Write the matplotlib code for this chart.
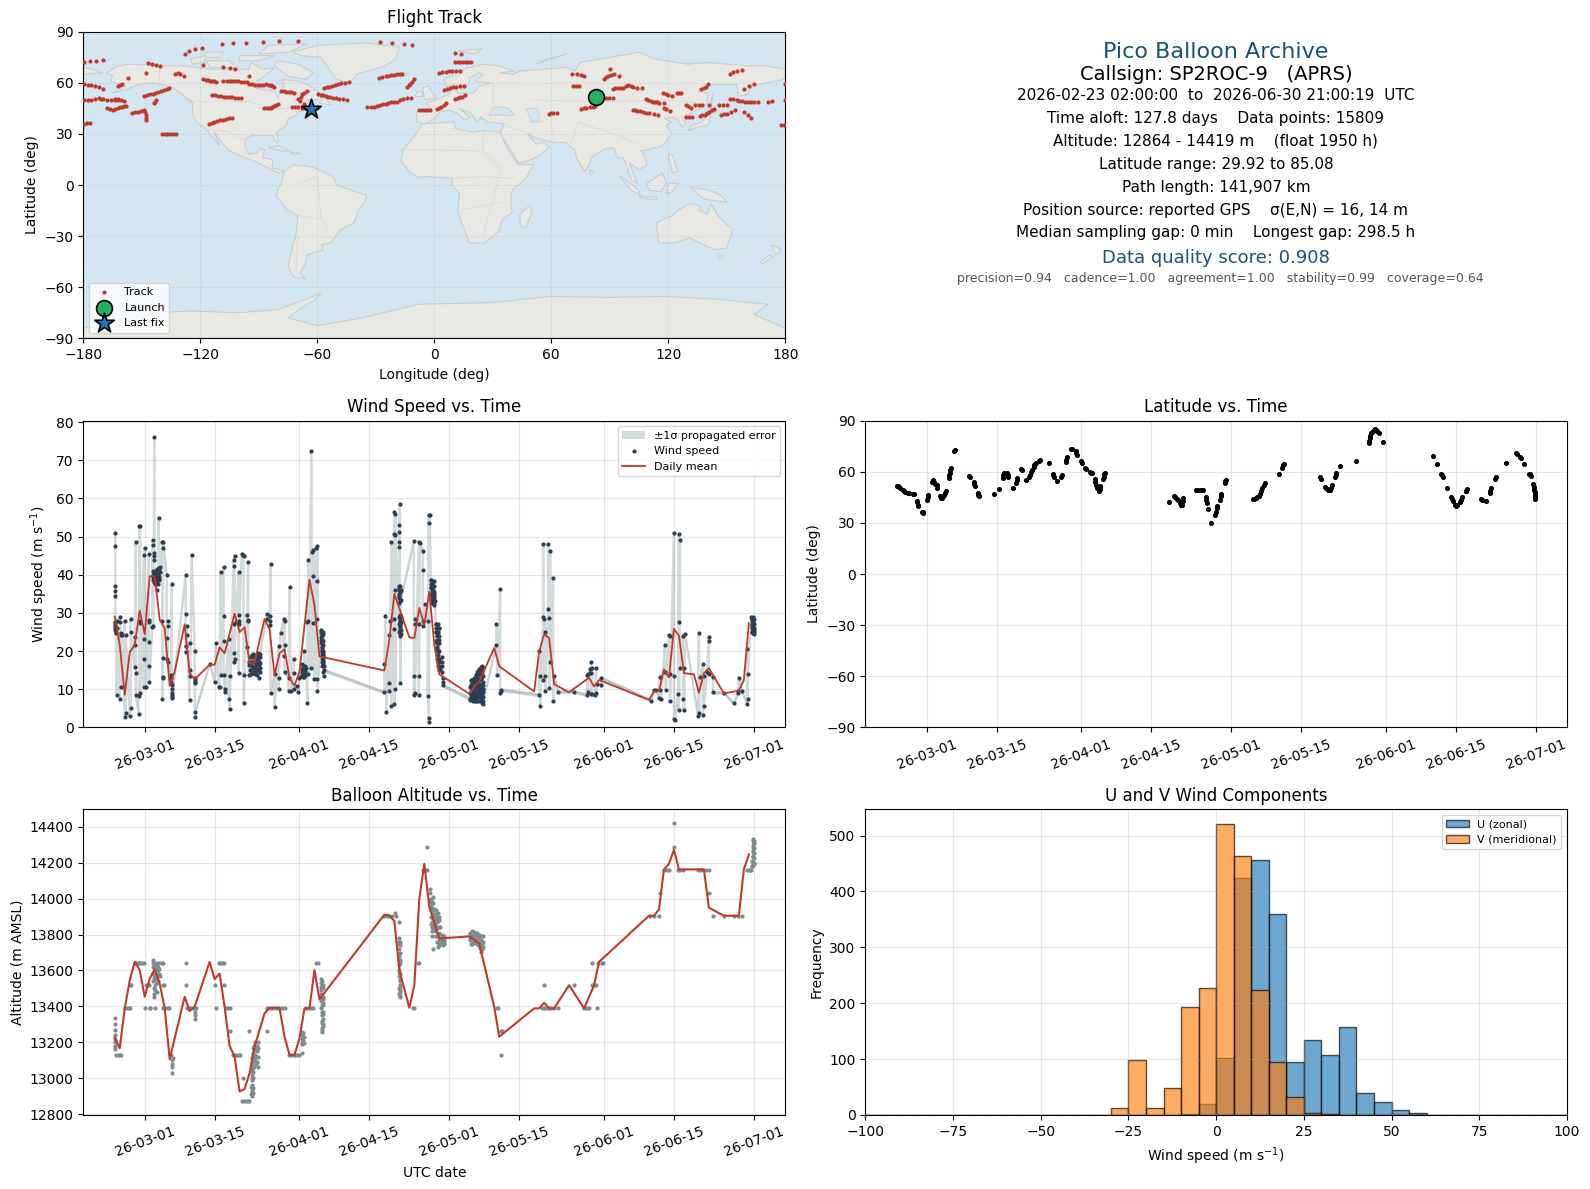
#!/usr/bin/env python3
"""Pico balloon flight summary: track map, stats text, wind, latitude, altitude, U/V histogram."""

from datetime import datetime, timedelta

import matplotlib

matplotlib.use("Agg")
import matplotlib.dates as mdates
import matplotlib.pyplot as plt
import numpy as np
from matplotlib.patches import Polygon

# all time values below are days after 2026-03-01 00:00 UTC
REF_DATE = datetime(2026, 3, 1)

track_pts = [
    (-128, 77), (-125.6, 79), (-122.7, 80), (-119, 80.7), (-109, 82.6), (-103, 83.4), (-96.4, 83.4),
    (-88, 84.2), (-79.5, 84.6), (-70, 84.6), (-28, 84), (-21.5, 83.6), (-15.3, 83), (-11.2, 82.4),
    (-179.5, 72.3), (-176.4, 72.9), (-173.3, 72.9), (-170, 73.6), (-147, 71.7), (-144.6, 71.3),
    (-142.7, 70.7), (-140.6, 70.1), (-148, 66), (-157.3, 63), (-179.5, 59.6), (-177.5, 59), (-176, 58.5),
    (-174, 58), (-172, 57.5), (-170, 56.6), (-162, 58), (-161, 58.6), (-160.4, 59.2), (-133, 65), (-131.5, 66),
    (-130.3, 65), (-128.6, 64), (-118.4, 70.3), (-108.4, 69.3), (-104.8, 68.8), (-102.4, 68.2), (-95.2, 64),
    (-118.4, 62), (-117, 61.8), (-116, 61.5), (-115, 61.2), (-114, 61), (-113, 60.9), (-112, 60.7),
    (-108.4, 61.3), (-106.5, 61.3), (-105, 61.3), (-103.5, 61.2), (-102, 61), (-100.5, 60.9), (-99, 60.8),
    (-97.5, 60.5), (-96, 60.3), (-95, 59.6), (-93.5, 59.2), (-92, 59), (-90.5, 59), (-89.5, 59), (-88, 59),
    (-86.5, 59.2), (-85, 58.8), (-84, 58.5), (-83, 58), (-82, 57.6), (-78.5, 55.3), (-77, 55), (-76, 54.8),
    (-74.5, 54.5), (-73.5, 54.4), (-72, 54), (-149, 52.3), (-147.5, 52.7), (-146, 53.2), (-144.5, 53.7),
    (-143, 54.2), (-141.5, 54.9), (-140, 55.5), (-138.5, 56), (-137, 56.7), (-136, 57), (-168, 45), (-166.5, 44.4),
    (-165, 44), (-163.5, 44.4), (-162, 45), (-161, 45.6), (-160, 46), (-159, 46.3), (-158, 46.5), (-179.5, 49.8),
    (-177.5, 49.9), (-176, 50), (-174, 50.5), (-172, 51), (-171, 50.6), (-170, 50.4), (-168, 50.1), (-166, 50),
    (-164, 49.9), (-162, 49.8), (-164, 50.8), (-162, 50.5), (-160.5, 50), (-159, 49.6), (-155, 42.4), (-153.5, 42.8),
    (-152, 43), (-150.5, 43.5), (-149, 44), (-148.5, 43), (-148, 41), (-147.8, 39.5), (-147.7, 38), (-144, 48),
    (-143.4, 49), (-142.8, 50), (-179.5, 35.7), (-178, 36.2), (-176.5, 36.7), (-139.4, 29.7), (-138, 29.8),
    (-137, 30), (-135.5, 30.1), (-134, 30.2), (-132.5, 30.2), (-114, 52.7), (-112.5, 52.6), (-111, 52.5),
    (-109.5, 52.2), (-108, 52), (-106.5, 51.8), (-105, 51.6), (-103.5, 51.5), (-102, 51.4), (-100.5, 51.3),
    (-99, 51.2), (-115.5, 36), (-114.2, 36.5), (-113, 37), (-111.5, 37.5), (-110, 38), (-108.5, 38.4), (-107, 38.8),
    (-105.5, 39.2), (-104, 39.6), (-87.3, 45), (-86, 45), (-85, 45), (-84, 45.3), (-83, 45.8), (-82, 46.2),
    (-81, 46.8), (-80, 47.5), (-73, 46), (-71.5, 45.8), (-70, 45.6), (-68, 45.5), (-66.5, 45.5), (-65, 45.3),
    (-60, 45), (-69.7, 50.8), (-69, 49.5), (-68.5, 52), (-67.8, 53.3), (-66.6, 54.2), (-65.4, 55), (-66.6, 47.8),
    (-59.4, 53.3), (-58, 53), (-57, 52.8), (-55.7, 52.4), (-54.7, 52), (-53.3, 51.6), (-52, 51.3), (-50.5, 51),
    (-49, 50.6), (-47, 50.4), (-45, 50.2), (-56.6, 57), (-55.2, 57.3), (-54, 57.6), (-52.5, 58), (-51, 58.5),
    (-49.5, 59.1), (-48, 59.7), (-46, 60), (-44, 60.4), (-34.4, 45.9), (-32.7, 45.9), (-31, 45.9), (-29.5, 46.4),
    (-28, 47), (-26.5, 47.4), (-25, 47.8), (-23.5, 48.1), (-22, 48.5), (-20.5, 48.8), (-19, 49), (-17.5, 49.7),
    (-16, 50.5), (-14, 51), (-12, 51.4), (-28.4, 63), (-27, 63.5), (-25, 64), (-23.5, 64.3), (-22, 64.6),
    (-20.5, 64.8), (-19, 65), (-17.5, 65), (-16.5, 65), (-14, 57.6), (-13.2, 58.5), (-12.5, 59.5), (-11.5, 60.8),
    (-10.5, 62), (10.5, 77.7), (13.8, 77), (10.5, 72.5), (12, 72.5), (13, 72.5), (14.5, 72.5), (16, 72.5),
    (17.5, 72.5), (18.6, 72.5), (2.6, 66), (4, 66.2), (6, 66.5), (7.5, 66.8), (9, 67), (11, 67.1), (13.4, 67.2),
    (5, 56), (6.5, 56.5), (8, 57), (9.5, 57.4), (11, 57.8), (13, 58.1), (15, 58.4), (10.5, 50.8), (12, 51.2),
    (13, 51.5), (14.4, 52), (15.8, 52.7), (-8, 43.8), (-6.5, 43.8), (-5, 43.8), (-3.5, 43.8), (-2, 43.8),
    (1.4, 44.5), (2.5, 45), (3.5, 45.8), (4.8, 47), (6, 48.2), (58.7, 42), (60, 42.2), (61, 42.4), (63, 42.4),
    (70.6, 65.4), (73, 65), (75, 64.6), (77, 64.3), (71.3, 58), (72.6, 58.2), (74, 58.4), (75.4, 44.5), (77, 45),
    (78, 45.3), (80, 45.8), (81.3, 46), (82.6, 46.3), (86, 51.4), (88, 51.4), (89.7, 51.4), (91.6, 51.4), (86.9, 62.5),
    (88, 63.3), (89, 64), (90.5, 64.7), (92, 65.4), (90.2, 68.4), (94.5, 64), (91.4, 56.6), (92.7, 56.8), (94, 57),
    (95.5, 57.1), (97, 57.2), (98.3, 58), (99.5, 58.7), (100.8, 58), (102, 57.5), (104, 57.2), (106.4, 57),
    (108.4, 50.8), (109.7, 50), (111, 49.3), (112, 48.9), (113, 48.6), (114.2, 48.5), (115.4, 48.4), (117.9, 48.4),
    (101.7, 44), (103, 43.8), (104, 43.6), (105.5, 43.3), (107, 43), (108.5, 42.6), (110, 42.2), (112.5, 41.8),
    (114.8, 41.4), (117.2, 54.1), (118.6, 53.5), (120, 53), (122, 52.4), (124.3, 54.3), (125.5, 54.3), (126.7, 54.3),
    (117.7, 45.5), (119, 44.7), (120.8, 43.6), (129, 47), (130, 46.3), (131.5, 45.5), (133.9, 47.3), (135.7, 47.3),
    (137.5, 47.3), (129, 40), (130.5, 39.8), (132.2, 39.8), (136.3, 40.4), (137.5, 40.9), (139, 41.4), (140, 42.2),
    (141, 43), (142.2, 43.8), (143.4, 44.5), (147, 41.4), (148.5, 41.7), (150, 42), (152, 43), (154, 44), (141, 47),
    (145.8, 46.9), (148, 46.9), (150, 46.9), (151.8, 50.8), (153.4, 50.3), (155, 49.8), (156.5, 49.5), (158, 49.2),
    (159.5, 49), (161, 48.8), (162.5, 48.7), (164, 48.6), (166, 49), (171, 48.8), (173, 49.5), (159, 43), (160.8, 41.2),
    (162.5, 39.6), (151.8, 65.4), (153.4, 66.1), (155, 66.8), (157.8, 67.8), (137, 56.3), (138.3, 56.9), (139.5, 57.5),
    (140.3, 59.2), (159, 56.6), (161.4, 57.9), (163.8, 59.2), (179.7, 59.6), (179.7, 49.8), (178, 35.5), (179.5, 35.5),
]
launch_lon, launch_lat = 83.0, 51.5
last_lon, last_lat = -63.0, 44.8

wind_seg1 = [
    (-5.92, 51), (-5.9, 47.5), (-5.9, 37), (-5.9, 35.8), (-5.9, 34.3), (-5.9, 27.5), (-5.88, 27), (-5.88, 26.5),
    (-5.86, 26), (-5.86, 25.5), (-5.84, 25), (-5.82, 24.8), (-5.6, 8.4), (-5.6, 28), (-5.6, 26), (-5, 7.4), (-5, 29),
    (-5, 27.5), (-4.8, 24.8), (-4.8, 10.5), (-4.75, 24.3), (-4.6, 24.2), (-4, 2.7), (-4, 28), (-3.8, 3.7), (-3.8, 24.3),
    (-3, 2.9), (-2.8, 5), (-2.8, 28.5), (-2.8, 25), (-2, 15.8), (-2, 23.7), (-2, 21.6), (-1.8, 48.7), (-1.8, 14.2),
    (-1.8, 8.4), (-1.2, 3.4), (-1.2, 8.2), (-1.05, 52.8), (-1, 28), (-1, 27.3), (-0.95, 52.8), (-0.9, 9), (-0.2, 45.2),
    (-0.2, 23.2), (-0.2, 18), (-0.2, 10.5), (0, 47), (0.3, 10.5), (0.8, 45.4), (0.8, 22.4), (0.85, 28.2), (0.85, 27.7),
    (0.85, 16.2), (0.85, 12), (1.55, 26.2), (1.6, 49), (1.6, 47.8), (1.65, 40), (1.65, 38.6), (1.7, 26.5), (1.75, 39.5),
    (1.8, 38), (1.85, 45.6), (1.85, 44.8), (1.85, 44), (1.9, 76), (1.95, 40.5), (2, 39), (2.05, 37.6), (2.2, 41),
    (2.3, 39.6), (2.35, 38.2), (2.45, 36), (2.5, 40.7), (2.6, 38.8), (2.7, 41.5), (2.75, 40), (2.8, 55), (2.85, 38.5),
    (2.9, 41.8), (3, 40.6), (3.5, 48.5), (3.5, 28), (3.5, 7.4), (3.6, 47), (3.6, 18.2), (3.6, 13.2), (3.6, 12.8),
    (3.7, 48.7), (4.4, 40), (4.4, 23.5), (4.4, 18), (4.6, 28), (4.6, 26.6), (4.6, 17.2), (5.3, 13.8), (5.35, 13), (5.35, 12),
    (5.4, 37.6), (5.4, 11), (5.4, 10), (5.4, 9), (5.42, 8.5), (5.45, 8), (5.5, 7.6), (8.2, 40), (8.2, 29.7), (8.2, 21.2),
    (8.2, 19.7), (8.4, 26.6), (8.4, 24.2), (9, 7.1), (9, 22), (9.05, 15), (9.1, 13.5), (9.4, 45.2), (10, 20), (10, 13), (10, 12.5),
    (10, 12), (10, 11.5), (10.05, 2.7), (10.1, 4), (13, 16.7), (14, 12), (14.2, 22), (14.8, 10.5), (15, 10.5), (15.2, 40.8),
    (15.2, 13.6), (15.8, 42), (15.8, 29.2), (15.8, 22.6), (15.8, 13.6), (16, 9.2), (16.1, 10), (16.8, 23.2), (16.8, 7.4),
    (17, 13.4), (17, 4.7), (17.8, 42.4), (17.8, 44), (17.8, 19.4), (17.8, 17), (17.9, 27), (18, 45), (18, 18), (18.2, 27.5),
    (18.8, 40.8), (18.8, 14.2), (18.9, 29.4), (18.9, 28), (18.9, 27), (19.4, 45.5), (19.7, 45.2), (19.8, 45), (19.8, 13.8),
    (19.8, 6.3), (20.4, 29.4), (20.4, 21), (20.6, 28.2), (20.7, 43.4), (20.7, 28), (20.8, 16.3), (20.9, 13.8), (21, 15),
    (21.2, 17), (21.3, 14), (21.5, 18.5), (21.5, 16.2), (21.6, 19.3), (21.7, 14.5), (21.9, 17.5), (22, 15.8), (22.1, 13.9),
    (22.2, 18.8), (22.4, 16.8), (22.5, 15), (22.6, 19.5), (22.7, 17.8), (22.8, 16.2), (22.8, 12.9), (23, 18.5), (23, 14.5),
    (24.4, 29.7), (24.4, 28.5), (25, 29.3), (25, 28), (25, 26.7), (25.2, 42.8), (25.2, 9), (26, 14), (26, 5.2), (26.8, 21.3),
    (26.8, 13), (26.8, 10), (27.2, 24.7), (27.8, 28.4), (27.8, 18.8), (28, 28), (28, 21.5), (28, 14.5), (28.8, 13), (28.8, 9.5),
    (29, 36.9), (29.2, 9.5), (29.8, 18), (29.8, 14.2), (29.8, 10), (30.6, 10.8), (30.8, 9.2), (31, 13), (31.4, 13.5), (31.5, 16.5),
    (31.6, 15.4), (31.7, 14.2), (31.8, 13.3), (31.9, 16), (32, 20), (32, 15), (32.1, 13.8), (32.2, 14.8), (32.6, 6.3), (32.6, 27.5),
    (32.8, 44), (32.8, 27.8), (32.8, 14), (33.4, 72.5), (33.4, 15.5), (33.6, 46), (33.7, 39.7), (33.7, 27.4), (33.8, 46.5),
    (33.9, 12.6), (34.4, 47), (34.5, 12.6), (34.6, 47.5), (34.6, 38.4), (34.6, 28.4), (34.6, 9.4), (35.3, 25.5), (35.35, 24.6),
    (35.35, 23.8), (35.4, 23), (35.4, 22), (35.45, 21), (35.45, 20.2), (35.5, 19.4), (35.5, 18.6), (35.55, 17.8), (35.55, 17),
    (35.6, 16.2), (35.65, 25), (35.65, 22.5), (35.7, 20), (35.7, 18), (35.75, 16.6), (35.8, 14.5), (35.85, 13.5),
]
wind_seg2 = [
    (48, 9.2), (48, 16.5), (48.2, 29.3), (48.4, 4), (49, 24.3), (49, 9.5), (49, 11.5), (49.2, 28), (49.4, 48.7), (49.4, 5.5),
    (50, 56.5), (50, 50.7), (50, 28.5), (50, 25.8), (50, 6.2), (50.1, 36), (50.2, 10), (50.2, 56), (50.2, 50.5), (51, 53),
    (51, 51.2), (51, 48.7), (51, 47.3), (51, 37), (51, 36), (51, 35), (51, 33.8), (51, 32.5), (51.1, 58.5), (51.1, 29.5),
    (51.1, 28.5), (51.1, 27.5), (51.1, 26.5), (51.1, 25.5), (51.1, 24.5), (51.2, 29), (51.2, 27), (51.2, 25), (51.2, 24), (51.2, 11.5),
    (53.9, 48.9), (53.9, 13.4), (53.9, 8.5), (54.1, 28.5), (54.1, 27), (54.1, 9), (54.9, 48.6), (54.9, 27), (54.9, 13.4), (54.9, 8.6),
    (55.1, 48.2), (55.7, 46.2), (55.7, 41.2), (55.7, 28), (55.7, 26.5), (56.1, 32.4), (56.7, 28), (56.7, 8.2), (56.9, 55.7),
    (56.9, 53.6), (56.9, 2.5), (56.9, 1.3), (57.1, 55.7), (57.3, 38.5), (57.35, 37.5), (57.4, 36.5), (57.45, 35.5), (57.5, 34.5),
    (57.55, 33.5), (57.6, 32.5), (57.7, 38), (57.75, 37), (57.8, 36), (57.85, 35), (57.9, 34), (57.95, 33), (58, 32),
    (58.3, 27), (58.35, 26), (58.4, 25), (58.45, 24), (58.5, 23), (58.55, 22), (58.6, 21), (58.65, 20), (58.7, 19), (58.75, 18),
    (58.8, 17), (58.85, 16), (58.9, 15), (58.95, 26), (59, 24), (59, 22), (59, 20), (59.5, 18.5), (59.5, 17), (59.55, 16), (59.6, 14.5),
    (59.65, 13), (59.7, 12), (59.7, 11),
]
wind_seg3 = [
    (65.1, 7.5), (65.2, 9), (65.3, 11), (65.4, 8), (65.5, 10), (65.6, 12), (65.7, 8.5), (65.8, 7), (65.9, 10), (66, 11.5),
    (66.1, 9), (66.2, 7.5), (66.3, 12), (66.4, 10.5), (66.5, 8), (66.6, 14.5), (66.6, 13), (66.7, 11), (66.7, 9), (66.8, 7),
    (66.9, 14), (67, 12.5), (67, 10), (67.1, 8), (67.2, 15), (67.3, 13), (67.4, 11), (67.4, 9), (67.5, 6.5), (67.6, 16), (67.6, 14),
    (67.7, 12), (67.7, 10), (67.8, 8), (67.8, 6), (70.4, 21.5), (70.4, 27), (70.6, 13.8), (71.2, 36.3), (71.2, 9), (71.3, 9.5), (71.4, 9.8),
    (79, 8.5), (79, 20), (79.2, 13.5), (79.2, 5.5), (79.8, 29), (79.8, 48), (79.8, 12.5), (80, 28.5), (80.2, 25), (80.2, 13.5),
    (80.2, 9.5), (80.8, 31), (80.8, 48), (81, 28.7), (81, 10.3), (81.2, 46.3), (81.2, 17), (81.8, 39.2), (81.8, 7), (82, 13.5),
    (82.8, 9.3), (86, 9.3), (88.6, 8.5), (88.6, 13.8), (88.8, 9.3), (88.8, 14), (89.2, 15.4), (89.2, 14.2), (89.4, 17), (89.4, 14.2),
    (89.4, 8.7), (89.6, 15.5), (89.6, 8.7), (90.2, 8.5), (90.4, 15.5), (90.4, 9), (90.6, 11.4), (91.4, 11), (91.4, 13),
    (101.4, 7), (102, 9.7), (102.4, 9.7), (103, 7.8), (103.2, 13.2), (103.2, 9.7), (103.4, 7.3), (104.2, 21.7), (104.2, 14.5), (104.4, 9.8),
    (105, 24.2), (105.2, 24), (105.2, 14), (105.2, 7), (106, 51), (106, 13.5), (106, 2.2), (106.2, 2), (106.8, 8.7), (107, 50.7), (107, 27.5),
    (107, 4.5), (107.2, 49.2), (107.2, 15.5), (107.8, 24), (107.8, 7.3), (108, 15.5), (108, 4.5), (108.2, 24.5), (110.8, 3), (111, 24.7),
    (111, 3.7), (111.2, 13.2), (111.8, 16.7), (111.8, 3.2), (112, 13.5), (112, 5.5), (112.6, 14.5), (113, 23.8), (113, 22.5), (113, 14),
    (113.8, 13.3), (113.8, 9.2), (116, 9), (118, 6.3), (118.8, 9), (118.8, 9.5), (119, 13), (119.6, 9.5), (120.6, 6.2), (120.6, 20.5),
    (120.8, 7.5), (120.8, 14), (121.5, 29), (121.55, 28), (121.6, 27), (121.65, 26), (121.7, 25), (121.7, 28.5), (121.75, 27.5),
    (121.8, 26.5), (121.85, 25.5), (121.9, 28), (121.9, 24.6), (122, 27), (122, 26), (122, 25), (122, 24.5), (121.88, 24.9),
]
# the solid blobs in the wind panel
wind_blobs = [
    (1.7, 41), (1.9, 38.5), (2.1, 40), (2.2, 37.8), (2.4, 41.5), (2.4, 38.8), (2.6, 40), (2.6, 37.5), (2.8, 39.5), (2.8, 41), (2.95, 38.8), (3, 42),
    (20.9, 17), (21.1, 18.5), (21.2, 15), (21.4, 19), (21.4, 14.2), (21.6, 17.2), (21.8, 15.5), (21.8, 18.6), (22, 14.5), (22, 19), (22.2, 16.5),
    (22.3, 14.6), (22.5, 18), (22.5, 13.7), (22.7, 15.3), (22.9, 19), (22.9, 17), (23.05, 15.5), (23.05, 16.8), (23.1, 19.2),
    (31.5, 14.5), (31.6, 13.4), (31.8, 15.8), (31.9, 14.6), (32, 13.2), (32.1, 16.2), (32.2, 13.6), (32.3, 15.6),
    (35.4, 25.2), (35.5, 24), (35.5, 23), (35.6, 22), (35.6, 21), (35.6, 20), (35.65, 19), (35.7, 18.6), (35.7, 17.4), (35.8, 24.5), (35.8, 21.5),
    (35.8, 19.5), (35.8, 17.2), (35.85, 16), (35.85, 15),
    (50.9, 29), (50.9, 27), (50.9, 25), (50.95, 36.5), (50.95, 34.5), (51.05, 37), (51.05, 33), (51.15, 35.5), (51.15, 28), (51.15, 26), (51.3, 29),
    (51.3, 27.5), (51.3, 25.5), (51.3, 24.4), (51.3, 36), (51.3, 33.5),
    (57.3, 36.7), (57.35, 34.8), (57.4, 33), (57.4, 38.7), (57.5, 37.4), (57.6, 36.3), (57.65, 35.2), (57.7, 34), (57.75, 32.8), (57.9, 38.4), (57.95, 37),
    (58, 35.5), (58, 34.5), (58.05, 33.2),
    (58.3, 25), (58.4, 27), (58.4, 22.5), (58.5, 26), (58.5, 20.5), (58.6, 24.5), (58.6, 18), (58.7, 27), (58.7, 22), (58.75, 16), (58.8, 25), (58.8, 20),
    (58.9, 23), (58.9, 18), (59, 26), (59, 17), (59.05, 15.2),
    (65.1, 10.5), (65.2, 7.2), (65.3, 8.7), (65.3, 12.4), (65.5, 12.5), (65.6, 7.3), (65.6, 9.6), (65.8, 9.6), (65.8, 11.6), (65.9, 8.2), (65.9, 12.2),
    (66, 13), (66.1, 7), (66.2, 10.6), (66.3, 13.8), (66.3, 8.4), (66.4, 6.9), (66.5, 11.8), (66.6, 9.6), (66.8, 12.6), (66.8, 14.8), (66.9, 10.4),
    (66.9, 8.6), (67, 15.4), (67.1, 11.4), (67.1, 13.6), (67.2, 6.8), (67.2, 9.6), (67.3, 15.8), (67.4, 12.6), (67.4, 7.6), (67.5, 14.8), (67.5, 10.4),
    (67.6, 8.4), (67.7, 13.5), (67.7, 15.6), (67.8, 11), (67.8, 9.2), (67.8, 7),
    (121.55, 26.5), (121.6, 25), (121.65, 28.6), (121.75, 26), (121.8, 24.8), (121.8, 28.8), (121.9, 27), (121.95, 25.6), (122, 28.3),
]

wind_mean_days = [
    -6, -5, -4, -3, -2, -1, 0, 1, 2, 3, 4, 5, 6, 8, 9, 10, 13, 14, 15, 16, 18, 19, 20, 21, 22, 24, 25, 26, 27, 28, 29, 30, 31,
    33, 34, 35, 48, 49, 50, 53, 54, 55, 56, 57, 58, 59, 65, 66, 67, 70, 71, 78, 79, 80, 81, 82, 85, 89, 90, 91, 101, 102, 103,
    104, 105, 106, 107, 108, 110, 111, 112, 113, 116, 119, 120, 121,
]
wind_mean = [
    29, 21.6, 8.5, 19.7, 21.6, 30.6, 24.4, 39.6, 39.6, 28.2, 26, 10.9, 14.6, 27, 14.2, 12.6, 16.4, 16.4, 21, 19.4, 29.8, 25,
    26.2, 16.8, 17, 28.4, 25.7, 13.7, 19.4, 20.5, 12.9, 10.9, 14.6, 38.7, 32, 18.6, 14.9, 23, 35, 23.6, 23.4, 31.3, 26.7,
    35.6, 21.6, 13.9, 8.8, 10.7, 12, 20.8, 16, 9.4, 19.9, 24.4, 23.4, 11.3, 9.2, 13, 10.7, 12.4, 7.2, 9.4, 9.5, 15.2, 13.1,
    25.8, 24, 14.2, 13.9, 9.1, 14.2, 15.5, 8.9, 9.6, 12.4, 27.3,
]
wind_sigma = 0.5  # roughly constant propagated error, m/s

alt_pts = [
    (-5.92, 13333), (-5.9, 13300), (-5.9, 13270), (-5.9, 13240), (-5.88, 13220), (-5.88, 13200), (-5.86, 13180), (-5.86, 13160),
    (-5.7, 13128), (-5.3, 13128), (-5, 13128), (-4.7, 13128), (-4, 13389), (-3.4, 13389), (-3.1, 13389), (-2.9, 13389), (-3, 13517),
    (-2.8, 13517), (-2, 13644), (-1.7, 13644), (-1.4, 13644), (-1.1, 13644), (-0.9, 13644), (-0.5, 13644), (-0.2, 13644), (0, 13389),
    (1, 13389), (1.1, 13389), (0.2, 13517), (0.6, 13517), (0.9, 13517), (1.6, 13660), (1.65, 13620), (1.7, 13580), (1.75, 13540),
    (1.8, 13500), (1.85, 13470), (1.9, 13450), (1.95, 13640), (2, 13610), (2, 13389), (2.05, 13570), (2.15, 13550), (2.3, 13600), (2.4, 13530),
    (2.5, 13640), (2.6, 13580), (2.7, 13540), (2.8, 13644), (2.9, 13610), (3, 13570), (3.4, 13644), (3.6, 13644), (3.6, 13517), (3.9, 13517),
    (3.6, 13389), (4.1, 13389), (4.6, 13389), (4.9, 13389), (5.3, 13130), (5.4, 13100), (5.45, 13080), (5.5, 13060), (5.5, 13030),
    (5.6, 13110), (8.2, 13644), (8.2, 13517), (8.4, 13389), (8.8, 13389), (9, 13389), (9.4, 13389), (9.8, 13389), (10, 13389),
    (10.2, 13389), (10, 13370), (10, 13350), (10, 13330), (14, 13517), (14.2, 13389), (14.8, 13644), (15.1, 13644), (15.4, 13644), (15.8, 13644),
    (15.8, 13517), (16.2, 13389), (16.6, 13389), (17, 13389), (17, 13263), (17.6, 13128), (18, 13128), (18.4, 13128), (18.8, 13128), (19, 13128),
    (19.6, 13000), (19.4, 12874), (19.8, 12874), (20.2, 12874), (20.6, 12874), (20.8, 12874), (20.8, 13263), (21.4, 12900), (21.45, 12930),
    (21.5, 12960), (21.5, 12990), (21.5, 13020), (21.5, 13050), (21.55, 13080), (21.55, 13110), (21.6, 12915), (21.6, 12945), (21.6, 13000),
    (21.65, 13035), (21.65, 13065), (21.7, 13095), (21.7, 13140), (21.7, 13170), (21.9, 13100), (22, 13130), (22, 13160), (22.3, 13080),
    (22.3, 13120), (22.4, 13180), (22.5, 13150), (22.6, 13200), (24.4, 13263), (24.4, 13389), (24.8, 13389), (25.3, 13389), (25.7, 13389), (26.2, 13389),
    (26.7, 13389), (27.2, 13389), (27.7, 13389), (28, 13389), (28.8, 13128), (29.3, 13128), (29.8, 13128), (30.2, 13128), (30.6, 13128),
    (30.9, 13128), (31.6, 13260), (31.6, 13240), (31.6, 13220), (31.6, 13200), (31.6, 13190), (31.6, 13140), (31.8, 13250), (31.8, 13210),
    (32, 13230), (32, 13195), (32.4, 13389), (33, 13389), (33.4, 13389), (33.8, 13389), (34.4, 13644), (34.7, 13644), (35.3, 13555), (35.3, 13510),
    (35.35, 13470), (35.4, 13430), (35.4, 13390), (35.5, 13350), (35.5, 13310), (35.55, 13280), (35.6, 13260), (35.6, 13540), (35.65, 13500),
    (35.7, 13450), (35.7, 13410), (35.75, 13370), (35.75, 13330), (35.8, 13300), (48, 13905), (48.5, 13905), (49, 13905), (49.5, 13905), (50.1, 13920),
    (50.3, 13905), (51, 13870), (51, 13780), (51, 13750), (51, 13720), (51, 13690), (51, 13660), (51, 13630), (51, 13600), (51, 13570),
    (51.05, 13540), (51.05, 13510), (51.05, 13480), (51.05, 13450), (51.1, 13760), (51.1, 13700), (51.1, 13640), (51.1, 13580), (51.1, 13520),
    (53.8, 13389), (54, 13389), (54.8, 13644), (55, 13644), (55.7, 14160), (56, 14160), (56.4, 14160), (56.6, 14160), (56.6, 14288),
    (57.1, 14055), (57.2, 14030), (57.3, 14000), (57.3, 13980), (57.4, 13960), (57.45, 13930), (57.5, 13900), (57.5, 13870), (57.55, 13840), (57.6, 13820),
    (57.65, 13717), (57.6, 13790), (57.7, 14010), (57.8, 13975), (57.9, 13945), (58, 13915), (58.05, 13880), (58.1, 13850), (58.2, 13820), (58.3, 13790),
    (58.4, 13935), (58.5, 13900), (58.5, 13870), (58.6, 13835), (58.6, 13800), (58.7, 13765), (58.7, 13730), (58.8, 13920), (58.9, 13880),
    (59, 13845), (59, 13810), (59.1, 13775), (59.5, 13795), (59.6, 13775), (59.7, 13755), (59.8, 13740), (59.9, 13790), (60, 13770),
    (65.1, 13800), (65.2, 13770), (65.3, 13750), (65.5, 13820), (65.6, 13790), (65.7, 13760), (65.9, 13815), (66, 13785), (66.2, 13755), (66.4, 13800),
    (66.5, 13770), (66.7, 13740), (66.9, 13790), (67, 13755), (67.1, 13725), (67.3, 13770), (67.3, 13740), (67.3, 13705), (67.5, 13790), (67.6, 13760),
    (67.8, 13730), (70.5, 13389), (70.7, 13389), (71.3, 13263), (71.5, 13263), (71.3, 13128), (79.5, 13389), (79.9, 13389), (80, 13517),
    (80.2, 13389), (80.7, 13389), (81, 13389), (81.4, 13389), (82, 13389), (82.8, 13389), (86, 13517), (88, 13389), (88.3, 13389), (88.6, 13389), (88.9, 13389),
    (90.5, 13389), (89.6, 13644), (89.6, 13517), (90, 13517), (90.4, 13517), (90.8, 13644), (91.5, 13644), (91.8, 13644), (101.2, 13905), (102, 13905), (103, 13905),
    (103.2, 14033), (104.1, 14160), (104.6, 14160), (105.1, 14160), (106, 14419), (106, 14288), (106.8, 14160), (107.3, 14160), (107.8, 14160),
    (110.8, 14160), (111.4, 14160), (112.5, 14160), (113, 14160), (113, 14033), (113.8, 13905), (116, 13905), (118, 13905), (118.8, 13905), (119.6, 13905),
    (120.6, 14160), (121, 14160), (121.3, 14160), (121.5, 14160), (121.6, 14180), (121.7, 14210), (121.75, 14240), (121.8, 14270), (121.85, 14300),
    (121.9, 14330), (121.95, 14195), (121.95, 14225), (122, 14255), (122, 14285), (121.9, 14190),
]
# the solid blobs in the altitude panel
alt_blobs = [
    (21.3, 12910), (21.35, 12950), (21.4, 13000), (21.4, 13040), (21.6, 13130), (21.6, 13060), (21.8, 13130), (21.8, 13180), (21.9, 13060), (22.1, 13200),
    (22.2, 13090), (22.3, 13160), (22.5, 13090), (22.6, 13120), (22.7, 13170), (22.7, 13060),
    (1.7, 13640), (1.8, 13620), (1.9, 13560), (2, 13520), (2.1, 13490), (2.2, 13630), (2.3, 13550), (2.4, 13480), (2.5, 13570), (2.6, 13620), (2.7, 13600), (2.8, 13580),
    (35.35, 13530), (35.4, 13490), (35.45, 13410), (35.5, 13450), (35.5, 13270), (35.55, 13370), (35.6, 13320), (35.65, 13420), (35.7, 13290), (35.75, 13520),
    (35.8, 13440), (35.8, 13360),
    (50.95, 13760), (50.95, 13680), (50.95, 13590), (51, 13500), (51, 13470), (51.1, 13490), (51.15, 13740), (51.15, 13660), (51.15, 13550), (51.15, 13460),
    (57.2, 13990), (57.3, 13950), (57.35, 13900), (57.4, 13860), (57.5, 13980), (57.6, 13940), (57.65, 13900), (57.7, 13860), (57.75, 13830), (57.9, 13880), (58, 13840),
    (58.1, 13900), (58.2, 13860), (58.3, 13900), (58.4, 13840), (58.4, 13790), (58.5, 13760), (58.6, 13920), (58.7, 13880), (58.8, 13790), (58.9, 13750), (59, 13900),
    (59, 13740), (59.1, 13840), (59.6, 13760), (59.7, 13790), (59.8, 13780), (59.9, 13760), (60, 13745),
    (65.1, 13780), (65.2, 13810), (65.4, 13790), (65.5, 13750), (65.8, 13780), (66.1, 13800), (66.3, 13770), (66.5, 13810), (66.6, 13760), (66.8, 13780), (67, 13800),
    (67.2, 13790), (67.4, 13720), (67.6, 13720), (67.7, 13790), (67.8, 13760), (67.5, 13750),
    (121.7, 14180), (121.75, 14290), (121.8, 14200), (121.8, 14320), (121.85, 14230), (121.95, 14310), (122, 14200), (122, 14320), (121.9, 14260),
]

alt_mean_days = [
    -6, -5, -4, -3, -2, -1, 0, 1, 2, 3, 4, 5, 8, 9, 10, 13, 14, 15, 16, 17, 18, 19, 20, 21, 22, 24, 25, 27, 28, 29, 30, 31, 32, 33, 34, 35,
    48, 49, 50, 51, 53, 54, 55, 56, 57, 59, 65, 67, 70, 71, 78, 79, 80, 81, 82, 85, 88, 90, 91, 101, 102, 103, 104, 105, 106, 107, 112, 113,
    116, 119, 120, 121,
]
alt_mean = [
    13226, 13167, 13389, 13546, 13648, 13602, 13454, 13555, 13607, 13528, 13389, 13106, 13454, 13374, 13398, 13648, 13552, 13583, 13398, 13180,
    13120, 12926, 12939, 13028, 13176, 13361, 13392, 13392, 13231, 13130, 13130, 13222, 13389, 13389, 13602, 13439, 13911, 13907, 13876, 13602,
    13392, 13518, 14000, 14194, 13954, 13778, 13790, 13750, 13398, 13231, 13389, 13389, 13420, 13389, 13389, 13518, 13389, 13518, 13648, 13905,
    13905, 13940, 14163, 14194, 14272, 14163, 14163, 13950, 13905, 13905, 14163, 14246,
]

lat_pts = [
    (-5.92, 51.9), (-5.8, 51.5), (-5.6, 51.2), (-5.4, 50.6), (-4.8, 49.6), (-4.6, 49), (-4.3, 48.4), (-3.7, 47.6), (-3.5, 47.4), (-2.8, 47), (-2.6, 46.8),
    (-1.95, 43), (-1.85, 42), (-1.75, 40.8), (-1.65, 39.8), (-0.9, 36.2), (-0.8, 35.6), (-0.7, 36.2), (0.1, 43.5), (0.2, 45), (0.3, 46.5), (1.1, 54.2),
    (1.2, 55), (1.4, 54), (1.7, 53), (2, 52), (2.1, 50.5), (2.7, 45.5), (2.8, 44.5), (3, 44.8), (3.2, 45.6), (3.5, 46.5), (3.7, 47.5), (3.9, 49), (4.4, 56.5), (4.5, 58),
    (4.6, 59.5), (4.7, 61), (4.8, 62.3), (5.5, 72.5), (5.7, 72.6), (8.4, 57.8), (8.6, 57), (9.4, 54), (9.5, 53), (9.6, 51.8), (10.2, 47.5), (10.3, 46.2), (10.4, 45.5),
    (13.4, 47.2), (14.4, 49.7), (15.2, 56.5), (15.3, 58), (15.4, 59.3), (16.1, 59.5), (16.2, 58), (16.3, 57), (17.2, 50.3), (17.9, 53.5), (18, 55), (18.1, 56.6),
    (18.8, 61.8), (19, 60.8), (19.8, 55), (20.6, 56.8), (20.8, 58), (20.9, 60), (21.1, 60.8), (21.5, 63), (21.6, 63.9), (21.8, 64.4), (22, 65.2), (22.5, 66.6), (22.8, 67.2),
    (24.6, 65.2), (25.3, 59), (25.4, 58), (25.5, 56.8), (26.2, 54.4), (26.9, 56.8), (27.1, 58), (27.9, 65.5), (28, 67.2), (28.1, 68.5), (28.9, 73.5), (29.1, 73.5),
    (29.9, 72), (30, 71.1), (30.2, 70), (31, 66.5), (31.1, 65.4), (31.8, 62.5), (32, 61.9), (32.7, 60), (32.9, 59.5), (33.1, 59.2), (33.7, 55.5), (33.8, 54), (33.9, 52.5),
    (34.2, 50.5), (34.5, 49), (34.7, 50), (34.8, 51.5), (35.4, 55.7), (35.5, 57), (35.6, 58.5), (35.8, 59.3), (48.5, 42.2), (49.5, 45.6), (49.7, 45.2), (50.2, 44.2), (50.4, 43.2),
    (50.7, 41.5), (50.9, 40.3), (51.1, 40.8), (51.3, 43), (51.4, 44.5), (54, 49.5), (54.3, 49.5), (54.9, 49.5), (55.2, 49.5), (55.4, 49.5), (56, 45.2), (56, 43.5), (56.1, 41.5),
    (56.3, 38.3), (57, 30), (57.8, 34.5), (57.9, 36.3), (58.1, 38.5), (58.2, 39.8), (58.7, 43.5), (58.9, 45.6), (59, 47), (59.7, 53.2), (59.8, 54.6), (59.9, 55),
    (65.4, 43.8), (65.6, 44), (65.9, 44.5), (66.2, 45), (66.5, 45.6), (66.7, 47), (67, 49), (67.2, 50.5), (67.5, 52.4), (67.7, 53.4), (70.5, 58.5), (71.1, 62), (71.3, 63.9), (71.5, 64.5),
    (78.9, 57), (79.1, 56), (79.9, 51.3), (80.1, 50.2), (80.5, 49.5), (80.8, 49.5), (81.1, 50.3), (81.3, 52), (81.9, 57.2), (82, 58.3), (82.1, 59.5), (82.9, 63.3), (86, 66.6),
    (88.6, 77), (88.7, 78.2), (88.8, 79.8), (88.9, 81), (89, 82.5), (89.3, 83.6), (89.6, 84.6), (89.8, 85.1), (90, 84.8), (90.3, 84), (90.6, 83), (91.5, 77.6),
    (101.5, 69.2), (102.2, 64.4), (103, 59), (103.2, 58), (103.4, 56.8), (104.3, 50.7), (105.1, 45.2), (105.2, 44.2), (105.4, 43), (105.9, 40.5), (106, 39.7), (106.2, 40.5),
    (106.9, 42), (107.1, 43.2), (107.3, 45), (108, 48.5), (108.1, 49), (108.3, 50), (111, 44), (111.2, 43.5), (112, 42.6), (112.8, 47.5), (112.9, 49), (113, 50.5), (113.8, 56),
    (114, 57), (116, 65.4), (118.1, 70.9), (118.3, 70.5), (118.8, 68.8), (119, 68.2), (119.6, 64.8), (120.7, 59), (120.8, 58.5), (121, 57.8), (121.5, 53), (121.6, 51),
    (121.7, 49.5), (121.8, 48), (121.85, 46.5), (121.9, 45), (121.92, 44.2),
]

hist_edges = list(range(-100, 105, 5))
u_counts = [0] * 18 + [2, 20, 102, 425, 457, 360, 95, 134, 107, 157, 39, 23, 9, 3] + [0] * 8
v_counts = [0] * 14 + [12, 98, 12, 48, 194, 227, 521, 464, 223, 94, 32, 4, 1] + [0] * 13

# rough continent outlines for the basemap, lon/lat
land_polys = [
    [(-168, 66), (-162, 70), (-156, 71), (-141, 70), (-128, 70), (-115, 68), (-108, 68), (-95, 68), (-94, 72), (-88, 68), (-82, 69),
     (-87, 64), (-94, 59), (-92, 57), (-82, 55), (-80, 51), (-79, 55), (-77, 58), (-78, 62), (-70, 61), (-65, 59), (-61, 56), (-56, 52),
     (-60, 50), (-66, 50), (-65, 48), (-61, 46), (-66, 44), (-70, 43), (-71, 41), (-75, 39), (-76, 35), (-81, 31), (-80, 26), (-81, 25),
     (-83, 29), (-90, 29), (-94, 29), (-97, 27), (-97, 22), (-95, 18), (-91, 19), (-90, 21), (-87, 21), (-88, 16), (-83, 15), (-83, 10),
     (-79, 9), (-77, 8), (-80, 7), (-85, 10), (-92, 14), (-97, 16), (-105, 20), (-109, 25), (-113, 31), (-110, 23), (-115, 30), (-118, 34),
     (-122, 37), (-124, 42), (-124, 48), (-130, 54), (-135, 58), (-145, 60), (-152, 59), (-158, 56), (-165, 54), (-158, 58), (-166, 61), (-165, 64)],
    [(-73, 78), (-60, 82), (-35, 83.5), (-18, 81), (-20, 74), (-25, 70), (-40, 65), (-43, 60), (-50, 62), (-54, 68), (-58, 75), (-68, 76)],
    [(-80, 73), (-70, 71), (-62, 66), (-66, 62), (-75, 64), (-82, 70)],
    [(-117, 73), (-105, 73), (-102, 69), (-115, 69)],
    [(-90, 77), (-85, 82), (-65, 83), (-75, 78)],
    [(-125, 74), (-117, 76), (-118, 72), (-124, 71)],
    [(-100, 76), (-82, 76), (-90, 73), (-100, 73)],
    [(-118, 78), (-108, 78), (-110, 75), (-117, 75)],
    [(-128, 50.5), (-124, 48.5), (-125, 50)],
    [(-59, 48), (-53, 47), (-56, 51.5)],
    [(-85, 22), (-80, 23), (-74, 20), (-78, 20)],
    [(-74, 19.5), (-68.5, 18.5), (-72, 18)],
    [(-24, 65), (-14, 66), (-14, 64.5), (-19, 63.5), (-23, 64)],
    [(-77, 8), (-72, 12), (-62, 10.5), (-52, 5), (-50, 0), (-44, -2.5), (-35, -6), (-35, -9), (-39, -15), (-41, -22), (-48, -26), (-53, -34),
     (-58, -35), (-57, -38), (-65, -41), (-66, -46), (-69, -52), (-66, -55), (-72, -54), (-75, -48), (-73, -38), (-71, -30), (-70, -18), (-76, -14),
     (-81, -6), (-80, -2), (-78, 2)],
    [(-6, 36), (10, 37), (11, 33), (20, 31), (25, 32), (34, 31), (37, 22), (43, 12), (51, 12), (47, 4), (40, -3), (39, -10), (40, -16), (35, -20),
     (33, -27), (26, -34), (18, -34), (14, -22), (12, -15), (13, -5), (9, 0), (9, 4), (-4, 5), (-8, 4.5), (-13, 8), (-17, 14), (-16, 21), (-10, 29)],
    [(49, -12), (50, -16), (47, -25), (44, -24), (44, -17)],
    [(-9, 43), (-9, 37), (-5, 36), (0, 39), (3, 43), (8, 44), (12, 42), (16, 38), (18, 40), (13, 45), (19, 42), (22, 37), (24, 40), (27, 37), (36, 36),
     (34, 31), (35, 28), (39, 21), (43, 13), (45, 13), (52, 16), (59, 22), (56, 25), (52, 24), (48, 30), (51, 28), (57, 26), (62, 25), (67, 25), (72, 21),
     (73, 16), (77, 8), (80, 13), (80, 16), (87, 21), (92, 22), (94, 16), (97, 16), (99, 10), (101, 3), (104, 1), (100, 13), (105, 9), (109, 12), (108, 17),
     (106, 20), (110, 21), (117, 23), (122, 30), (119, 35), (122, 37), (118, 39), (122, 40), (125, 38), (127, 34), (129, 36), (127, 40), (133, 43), (140, 48),
     (140, 54), (135, 55), (143, 59), (155, 59), (156, 52), (160, 53), (163, 58), (170, 60), (179, 62), (180, 65), (180, 68), (170, 70), (160, 70), (140, 72),
     (130, 71), (113, 74), (105, 78), (90, 75), (75, 72), (72, 67), (68, 69), (55, 68), (44, 67), (40, 65), (34, 66), (41, 67), (33, 70), (25, 71), (15, 68),
     (5, 62), (6, 58), (11, 59), (14, 56), (18, 60), (18, 63), (23, 66), (25, 65), (21, 61), (29, 60), (23, 58), (20, 54), (12, 54), (10, 57), (8, 54), (3, 51),
     (-2, 49), (-4, 48), (-1, 44)],
    [(-180, 65), (-170, 66), (-175, 68), (-180, 69)],
    [(-5, 50), (1, 51), (-2, 56), (-3, 58.5), (-6, 57)],
    [(-10, 52), (-6, 52), (-6, 55), (-9, 54.5)],
    [(12, 79), (25, 80), (20, 77)],
    [(52, 71), (68, 77), (58, 74)],
    [(130, 32), (135, 34), (140, 35), (142, 40), (140, 41), (137, 37), (132, 35)],
    [(140, 42), (145, 43), (142, 45.5)],
    [(142, 46), (143, 54), (142, 50)],
    [(80, 9), (82, 7), (80, 6)],
    [(109, 1), (117, 7), (119, 1), (116, -4), (110, -3)],
    [(95, 5.5), (104, -2), (106, -6), (101, -3)],
    [(105, -6.5), (114, -7), (114, -8.5), (106, -7.5)],
    [(119, -5), (120, 1), (125, 1), (122, -4)],
    [(131, -1), (141, -3), (147, -6), (150, -10), (142, -9), (138, -8)],
    [(120, 18), (122, 18), (125, 8), (122, 7), (121, 13)],
    [(114, -22), (122, -18), (126, -14), (131, -11), (136, -12), (136, -15), (140, -17), (142, -11), (146, -19), (153, -26), (150, -37), (144, -38),
     (138, -35), (131, -31), (123, -34), (115, -34)],
    [(145, -41), (148, -41), (147, -43.5)],
    [(173, -35), (178, -38), (175, -41)],
    [(172, -41), (174, -42), (168, -46.5), (167, -45)],
    [(-180, -84), (-155, -82), (-145, -75), (-125, -74), (-100, -75), (-80, -73), (-68, -68), (-58, -63.5), (-62, -68), (-68, -72), (-75, -78), (-60, -82.6),
     (-37, -78), (-8, -70), (30, -69), (59, -65.4), (90, -66), (118, -65.4), (145, -67), (171, -70), (164, -76), (180, -84), (180, -90), (-180, -90)],
]
inland_seas = [
    [(28, 41), (41, 41), (38, 45), (33, 46), (30, 45)],
    [(47, 45), (53, 45), (54, 37), (50, 37)],
]
border_lines = [
    [(-123, 49), (-95, 49), (-83, 45), (-75, 45), (-67, 47)],
    [(-141, 70), (-141, 60)],
    [(-117, 32.5), (-106, 31.5), (-97, 26)],
    [(-70, -18), (-58, -20), (-54, -26)],
    [(-70, -30), (-71, -52)],
    [(-70, 1), (-60, 5), (-58, -20)],
    [(-17, 21), (25, 20), (25, 32)],
    [(25, 20), (34, 10), (30, -10), (25, -30)],
    [(9, 4), (25, 5), (40, 4)],
    [(12, -15), (34, -10)],
    [(35, 36), (48, 30)],
    [(61, 35), (61, 25)],
    [(74, 37), (70, 24)],
    [(50, 50), (87, 49), (120, 50), (135, 48)],
    [(30, 60), (30, 46)],
    [(74, 37), (97, 28), (108, 22)],
]

wind_pts = np.array(wind_seg1 + wind_seg2 + wind_seg3 + wind_blobs, dtype=float)
wind_pts = wind_pts[np.argsort(wind_pts[:, 0], kind="stable")]
alt_arr = np.array(alt_pts + alt_blobs, dtype=float)
lat_arr = np.array(lat_pts, dtype=float)
track_arr = np.array(track_pts, dtype=float)

RED = "#c0392b"
W, H = 1590, 1189


def to_dates(days):
    return [REF_DATE + timedelta(days=float(d)) for d in days]


def make_axes(fig, left, top, right, bottom):
    return fig.add_axes([left / W, 1 - bottom / H, (right - left) / W, (bottom - top) / H])


def style_time_axis(ax):
    ax.xaxis.set_major_locator(mdates.DayLocator(bymonthday=(1, 15)))
    ax.xaxis.set_major_formatter(mdates.DateFormatter("%y-%m-%d"))
    ax.tick_params(axis="x", labelrotation=20)
    ax.set_xlim(to_dates([-12.3, 128.3]))
    ax.grid(True, alpha=0.3)


fig = plt.figure(figsize=(W / 100, H / 100), dpi=100)

# flight track map
ax_map = make_axes(fig, 83.3, 31.8, 785.3, 338.3)
ax_map.set_facecolor("#d4e6f1")
for poly in land_polys:
    ax_map.add_patch(Polygon(poly, closed=True, facecolor="#e8e8e4", edgecolor="#c8cccc", lw=0.7, zorder=1))
for poly in inland_seas:
    ax_map.add_patch(Polygon(poly, closed=True, facecolor="#d4e6f1", edgecolor="#c8cccc", lw=0.6, zorder=1.1))
for line in border_lines:
    xs, ys = zip(*line)
    ax_map.plot(xs, ys, color="#d8d8d6", lw=0.5, zorder=1.2)
ax_map.scatter(track_arr[:, 0], track_arr[:, 1], s=4, color=RED, zorder=3, label="Track")
ax_map.scatter([launch_lon], [launch_lat], s=130, color="#27ae60", edgecolor="black", linewidth=1.2, zorder=5, label="Launch")
ax_map.scatter([last_lon], [last_lat], s=220, marker="*", color="#1f77b4", edgecolor="black", linewidth=1.2, zorder=5, label="Last fix")
ax_map.set_xlim(-180, 180)
ax_map.set_ylim(-90, 90)
ax_map.set_xticks(range(-180, 181, 60))
ax_map.set_yticks(range(-90, 91, 30))
ax_map.grid(True, ls="--", lw=0.5, alpha=0.35)
ax_map.set_xlabel("Longitude (deg)")
ax_map.set_ylabel("Latitude (deg)")
ax_map.set_title("Flight Track", fontsize=12)
ax_map.legend(loc="lower left", fontsize=8)

# stats text panel
ax_txt = make_axes(fig, 865.3, 31.3, 1567, 338.3)
ax_txt.axis("off")
BLUE = "#1a5276"
info_lines = [
    (51.6, "Pico Balloon Archive", 16, BLUE, 0.4992),
    (74, "Callsign: SP2ROC-9   (APRS)", 14, "black", 0.5),
    (95.5, "2026-02-23 02:00:00  to  2026-06-30 21:00:19  UTC", 11, "black", 0.4992),
    (118, "Time aloft: 127.8 days    Data points: 15809", 11, "black", 0.4992),
    (141, "Altitude: 12864 - 14419 m    (float 1950 h)", 11, "black", 0.4992),
    (164.2, "Latitude range: 29.92 to 85.08", 11, "black", 0.5),
    (187, "Path length: 141,907 km", 11, "black", 0.5),
    (210, "Position source: reported GPS    σ(E,N) = 16, 14 m", 11, "black", 0.4992),
    (232.6, "Median sampling gap: 0 min    Longest gap: 298.5 h", 11, "black", 0.4992),
    (258, "Data quality score: 0.908", 13, BLUE, 0.4992),
    (278, "precision=0.94   cadence=1.00   agreement=1.00   stability=0.99   coverage=0.64", 9, "#555555", 0.5055),
]
for py, txt, size, col, xfrac in info_lines:
    ax_txt.text(xfrac, 1 - (py - 31.3) / 307, txt, ha="center", va="center", fontsize=size, color=col, transform=ax_txt.transAxes)

# wind speed
ax_wind = make_axes(fig, 83.3, 420.7, 785.3, 727.3)
wind_dates = to_dates(wind_pts[:, 0])
ax_wind.fill_between(wind_dates, wind_pts[:, 1] - wind_sigma, wind_pts[:, 1] + wind_sigma, color="#95a5a6", alpha=0.4,
                     lw=0, label="±1σ propagated error")
ax_wind.plot(wind_dates, wind_pts[:, 1], color="#95a5a6", alpha=0.4, lw=1.8, zorder=2)
ax_wind.scatter(wind_dates, wind_pts[:, 1], s=4, color="#2c3e50", zorder=3, label="Wind speed")
ax_wind.plot(to_dates(wind_mean_days), wind_mean, color=RED, lw=1.3, zorder=4, label="Daily mean")
ax_wind.set_ylim(0, 80.4)
style_time_axis(ax_wind)
ax_wind.set_ylabel("Wind speed (m s$^{-1}$)")
ax_wind.set_title("Wind Speed vs. Time", fontsize=12)
ax_wind.legend(loc="upper right", fontsize=8)

# latitude
ax_lat = make_axes(fig, 865.3, 420.7, 1567, 727.3)
ax_lat.scatter(to_dates(lat_arr[:, 0]), lat_arr[:, 1], s=7, color="black", zorder=3)
ax_lat.set_ylim(-90, 90)
ax_lat.set_yticks(range(-90, 91, 30))
style_time_axis(ax_lat)
ax_lat.set_ylabel("Latitude (deg)")
ax_lat.set_title("Latitude vs. Time", fontsize=12)

# altitude
ax_alt = make_axes(fig, 83.3, 809.3, 785.3, 1115)
ax_alt.scatter(to_dates(alt_arr[:, 0]), alt_arr[:, 1], s=4, color="#7f8c8d", zorder=3)
ax_alt.plot(to_dates(alt_mean_days), alt_mean, color=RED, lw=1.5, zorder=4)
ax_alt.set_ylim(12795, 14498)
ax_alt.set_yticks(range(12800, 14401, 200))
style_time_axis(ax_alt)
ax_alt.set_xlabel("UTC date", labelpad=5)
ax_alt.set_ylabel("Altitude (m AMSL)")
ax_alt.set_title("Balloon Altitude vs. Time", fontsize=12)

# U / V histogram
ax_hist = make_axes(fig, 865.3, 809.3, 1567, 1115)
centers = [e + 2.5 for e in hist_edges[:-1]]
ax_hist.hist(centers, bins=hist_edges, weights=u_counts, alpha=0.65, edgecolor="black", color="#1f77b4", label="U (zonal)")
ax_hist.hist(centers, bins=hist_edges, weights=v_counts, alpha=0.65, edgecolor="black", color="#ff7f0e", label="V (meridional)")
ax_hist.set_xlim(-100, 100)
ax_hist.grid(True, alpha=0.3)
ax_hist.set_xlabel("Wind speed (m s$^{-1}$)", labelpad=5)
ax_hist.set_ylabel("Frequency")
ax_hist.set_title("U and V Wind Components", fontsize=12)
ax_hist.legend(loc="upper right", fontsize=8)

fig.savefig("out.png", dpi=100)
plt.close(fig)
